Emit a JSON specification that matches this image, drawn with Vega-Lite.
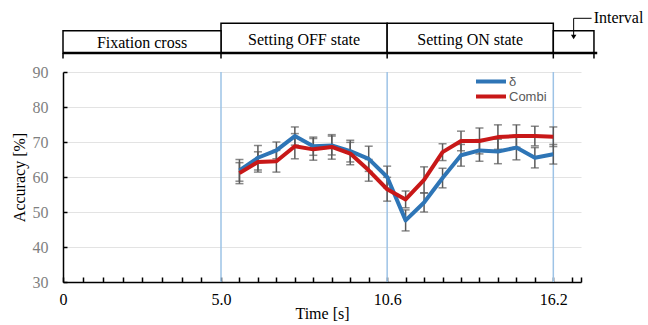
{
  "$schema": "https://vega.github.io/schema/vega-lite/v6.json",
  "background": "white",
  "padding": {"left": 11, "top": 5, "right": 0, "bottom": 5},
  "config": {
    "font": "Liberation Serif",
    "view": {"stroke": null},
    "axis": {"labelOverlap": false, "labelBound": false, "labelFlush": false},
    "axisX": {
      "labelOverlap": false,
      "labelFlush": false,
      "labelFont": "Liberation Serif",
      "labelFontSize": 16,
      "labelColor": "black",
      "labelPadding": 14,
      "tickSize": -5,
      "tickColor": "black",
      "tickWidth": 1.5,
      "domainColor": "black",
      "domainWidth": 1.5,
      "grid": false,
      "titleFont": "Liberation Serif",
      "titleFontSize": 16,
      "titleFontWeight": "normal",
      "titleColor": "black",
      "titlePadding": -2
    },
    "axisY": {
      "labelOverlap": false,
      "grid": true,
      "gridColor": "#E3E3E3",
      "gridWidth": 1,
      "labelFont": "Liberation Serif",
      "labelFontSize": 16,
      "labelColor": "#7F7F7F",
      "labelPadding": 19,
      "tickSize": -4,
      "tickColor": "black",
      "tickWidth": 1.5,
      "domainColor": "black",
      "domainWidth": 1.5,
      "titleFont": "Liberation Serif",
      "titleFontSize": 16,
      "titleFontWeight": "normal",
      "titleColor": "black",
      "titlePadding": 5
    }
  },
  "datasets": {
    "accuracy": [
      {"time": 5.622, "series": "δ", "mean": 61.9, "err": 3.1},
      {"time": 6.244, "series": "δ", "mean": 65.5, "err": 3.5},
      {"time": 6.867, "series": "δ", "mean": 67.6, "err": 2.4},
      {"time": 7.489, "series": "δ", "mean": 71.7, "err": 2.6},
      {"time": 8.111, "series": "δ", "mean": 68.8, "err": 2.6},
      {"time": 8.733, "series": "δ", "mean": 69.0, "err": 2.7},
      {"time": 9.356, "series": "δ", "mean": 67.4, "err": 3.1},
      {"time": 9.978, "series": "δ", "mean": 65.2, "err": 3.6},
      {"time": 10.6, "series": "δ", "mean": 60.0, "err": 3.1},
      {"time": 11.222, "series": "δ", "mean": 47.6, "err": 3.0},
      {"time": 11.844, "series": "δ", "mean": 52.7, "err": 2.7},
      {"time": 12.467, "series": "δ", "mean": 59.7, "err": 2.8},
      {"time": 13.089, "series": "δ", "mean": 66.2, "err": 3.1},
      {"time": 13.711, "series": "δ", "mean": 67.6, "err": 3.1},
      {"time": 14.333, "series": "δ", "mean": 67.3, "err": 3.5},
      {"time": 14.956, "series": "δ", "mean": 68.4, "err": 3.5},
      {"time": 15.578, "series": "δ", "mean": 65.5, "err": 2.9},
      {"time": 16.2, "series": "δ", "mean": 66.5, "err": 2.8},
      {"time": 5.622, "series": "Combi", "mean": 61.1, "err": 3.0},
      {"time": 6.244, "series": "Combi", "mean": 64.3, "err": 2.9},
      {"time": 6.867, "series": "Combi", "mean": 64.5, "err": 3.1},
      {"time": 7.489, "series": "Combi", "mean": 68.8, "err": 3.6},
      {"time": 8.111, "series": "Combi", "mean": 67.9, "err": 3.1},
      {"time": 8.733, "series": "Combi", "mean": 68.6, "err": 3.5},
      {"time": 9.356, "series": "Combi", "mean": 66.7, "err": 3.2},
      {"time": 9.978, "series": "Combi", "mean": 61.9, "err": 3.1},
      {"time": 10.6, "series": "Combi", "mean": 56.5, "err": 3.4},
      {"time": 11.222, "series": "Combi", "mean": 53.6, "err": 2.4},
      {"time": 11.844, "series": "Combi", "mean": 59.2, "err": 3.7},
      {"time": 12.467, "series": "Combi", "mean": 67.1, "err": 2.4},
      {"time": 13.089, "series": "Combi", "mean": 70.3, "err": 2.8},
      {"time": 13.711, "series": "Combi", "mean": 70.3, "err": 3.7},
      {"time": 14.333, "series": "Combi", "mean": 71.4, "err": 3.5},
      {"time": 14.956, "series": "Combi", "mean": 71.7, "err": 3.2},
      {"time": 15.578, "series": "Combi", "mean": 71.7, "err": 2.8},
      {"time": 16.2, "series": "Combi", "mean": 71.5, "err": 2.8}
    ],
    "phases": [
      {"phase": "Fixation cross", "start": 0, "end": 5.0, "mid": 2.5, "kind": "rest"},
      {"phase": "Setting OFF state", "start": 5.0, "end": 10.6, "mid": 7.8, "kind": "setting"},
      {"phase": "Setting ON state", "start": 10.6, "end": 16.2, "mid": 13.4, "kind": "setting"},
      {"phase": "Interval", "start": 16.2, "end": 17.57, "mid": 16.885, "kind": "rest"}
    ],
    "boundaries": [{"t": 5.0}, {"t": 10.6}, {"t": 16.2}]
  },
  "spacing": 4,
  "resolve": {"scale": {"x": "independent", "y": "independent"}, "legend": {"color": "independent"}},
  "vconcat": [
    {
      "width": 518,
      "height": 54,
      "data": {"name": "phases"},
      "layer": [
        {
          "transform": [{"filter": "datum.kind == 'setting'"}],
          "mark": {"type": "rect", "fill": "white", "stroke": "black", "strokeWidth": 1.5},
          "encoding": {
            "x": {"field": "start", "type": "quantitative", "scale": {"domain": [0, 5, 17.133], "range": [0, 158, 518], "nice": false, "zero": false}, "axis": null},
            "x2": {"field": "end"},
            "y": {"datum": 0, "type": "quantitative", "scale": {"domain": [-6, 48], "nice": false}, "axis": null},
            "y2": {"datum": 29.7}
          }
        },
        {
          "transform": [{"filter": "datum.kind == 'rest'"}],
          "mark": {"type": "rect", "fill": "white", "stroke": "black", "strokeWidth": 1.5},
          "encoding": {
            "x": {"field": "start", "type": "quantitative"},
            "x2": {"field": "end"},
            "y": {"datum": 0, "type": "quantitative"},
            "y2": {"datum": 22.3}
          }
        },
        {
          "mark": {"type": "rule", "color": "black", "strokeWidth": 1.5},
          "encoding": {
            "x": {"field": "start", "type": "quantitative"},
            "y": {"datum": 0, "type": "quantitative"},
            "y2": {"datum": -5.5}
          }
        },
        {
          "transform": [{"filter": "datum.phase == 'Interval'"}],
          "mark": {"type": "rule", "color": "black", "strokeWidth": 1.5},
          "encoding": {
            "x": {"field": "end", "type": "quantitative"},
            "y": {"datum": 0, "type": "quantitative"},
            "y2": {"datum": -5.5}
          }
        },
        {
          "transform": [{"filter": "datum.phase == 'Fixation cross'"}],
          "mark": {"type": "rule", "color": "black", "strokeWidth": 2.5},
          "encoding": {
            "x": {"field": "start", "type": "quantitative"},
            "x2": {"datum": 17.68},
            "y": {"datum": 0, "type": "quantitative"}
          }
        },
        {
          "transform": [{"filter": "datum.kind == 'setting'"}],
          "mark": {"type": "text", "fontSize": 16, "font": "Liberation Serif", "color": "black", "baseline": "alphabetic", "align": "center"},
          "encoding": {
            "x": {"field": "mid", "type": "quantitative"},
            "y": {"datum": 8.5, "type": "quantitative"},
            "text": {"field": "phase"}
          }
        },
        {
          "transform": [{"filter": "datum.phase == 'Fixation cross'"}],
          "mark": {"type": "text", "fontSize": 16, "font": "Liberation Serif", "color": "black", "baseline": "alphabetic", "align": "center"},
          "encoding": {
            "x": {"field": "mid", "type": "quantitative"},
            "y": {"datum": 5.5, "type": "quantitative"},
            "text": {"field": "phase"}
          }
        },
        {
          "transform": [{"filter": "datum.phase == 'Interval'"}],
          "mark": {"type": "text", "fontSize": 16, "font": "Liberation Serif", "color": "black", "baseline": "alphabetic", "align": "left", "dx": 20},
          "encoding": {
            "x": {"field": "mid", "type": "quantitative"},
            "y": {"datum": 29.7, "type": "quantitative"},
            "text": {"field": "phase"}
          }
        },
        {
          "transform": [{"filter": "datum.phase == 'Interval'"}],
          "mark": {"type": "rule", "color": "black", "strokeWidth": 1},
          "encoding": {
            "x": {"field": "mid", "type": "quantitative"},
            "x2": {"datum": 17.49},
            "y": {"datum": 34.7, "type": "quantitative"}
          }
        },
        {
          "transform": [{"filter": "datum.phase == 'Interval'"}],
          "mark": {"type": "rule", "color": "black", "strokeWidth": 1},
          "encoding": {
            "x": {"field": "mid", "type": "quantitative"},
            "y": {"datum": 34.7, "type": "quantitative"},
            "y2": {"datum": 17}
          }
        },
        {
          "transform": [{"filter": "datum.phase == 'Interval'"}],
          "mark": {"type": "point", "shape": "triangle-down", "filled": true, "color": "black", "size": 30, "opacity": 1},
          "encoding": {
            "x": {"field": "mid", "type": "quantitative"},
            "y": {"datum": 16, "type": "quantitative"}
          }
        }
      ]
    },
    {
      "width": 518,
      "height": 210,
      "layer": [
        {
          "data": {"name": "boundaries"},
          "mark": {"type": "rule", "color": "#9DC3E6", "strokeWidth": 1.5},
          "encoding": {
            "x": {
              "field": "t",
              "type": "quantitative",
              "title": "Time [s]",
              "scale": {"domain": [0, 5, 17.133], "range": [0, 158, 518], "nice": false, "zero": false},
              "axis": {
                "values": [0, 0.644, 1.267, 1.889, 2.511, 3.133, 3.756, 4.378, 5, 5.622, 6.244, 6.867, 7.489, 8.111, 8.733, 9.356, 9.978, 10.6, 11.222, 11.844, 12.467, 13.089, 13.711, 14.333, 14.956, 15.578, 16.2, 16.822, 17.133],
                "labelExpr": "datum.value < 0.01 ? '0' : (datum.value > 4.9 && datum.value < 5.1) ? '5.0' : (datum.value > 10.5 && datum.value < 10.7) ? '10.6' : (datum.value > 16.1 && datum.value < 16.3) ? '16.2' : ''",
                "labelOverlap": false,
                "labelFlush": false
              }
            }
          }
        },
        {
          "data": {"name": "accuracy"},
          "mark": {"type": "errorbar", "color": "#595959", "thickness": 1.5, "ticks": {"size": 8}},
          "encoding": {
            "x": {
              "field": "time",
              "type": "quantitative",
              "title": "Time [s]",
              "scale": {"domain": [0, 5, 17.133], "range": [0, 158, 518], "nice": false, "zero": false},
              "axis": {
                "values": [0, 0.644, 1.267, 1.889, 2.511, 3.133, 3.756, 4.378, 5, 5.622, 6.244, 6.867, 7.489, 8.111, 8.733, 9.356, 9.978, 10.6, 11.222, 11.844, 12.467, 13.089, 13.711, 14.333, 14.956, 15.578, 16.2, 16.822, 17.133],
                "labelExpr": "datum.value < 0.01 ? '0' : (datum.value > 4.9 && datum.value < 5.1) ? '5.0' : (datum.value > 10.5 && datum.value < 10.7) ? '10.6' : (datum.value > 16.1 && datum.value < 16.3) ? '16.2' : ''",
                "labelOverlap": false,
                "labelFlush": false
              }
            },
            "y": {
              "field": "mean",
              "type": "quantitative",
              "title": "Accuracy [%]",
              "scale": {"domain": [30, 90], "nice": false, "zero": false},
              "axis": {"values": [30, 40, 50, 60, 70, 80, 90], "labelOverlap": false}
            },
            "yError": {"field": "err"},
            "detail": {"field": "series"}
          }
        },
        {
          "data": {"name": "accuracy"},
          "mark": {"type": "line", "strokeWidth": 4, "strokeJoin": "round"},
          "encoding": {
            "x": {
              "field": "time",
              "type": "quantitative",
              "title": "Time [s]",
              "axis": {
                "values": [0, 0.644, 1.267, 1.889, 2.511, 3.133, 3.756, 4.378, 5, 5.622, 6.244, 6.867, 7.489, 8.111, 8.733, 9.356, 9.978, 10.6, 11.222, 11.844, 12.467, 13.089, 13.711, 14.333, 14.956, 15.578, 16.2, 16.822, 17.133],
                "labelExpr": "datum.value < 0.01 ? '0' : (datum.value > 4.9 && datum.value < 5.1) ? '5.0' : (datum.value > 10.5 && datum.value < 10.7) ? '10.6' : (datum.value > 16.1 && datum.value < 16.3) ? '16.2' : ''",
                "labelOverlap": false,
                "labelFlush": false
              }
            },
            "y": {
              "field": "mean",
              "type": "quantitative",
              "title": "Accuracy [%]",
              "axis": {"values": [30, 40, 50, 60, 70, 80, 90], "labelOverlap": false}
            },
            "color": {
              "field": "series",
              "type": "nominal",
              "scale": {"domain": ["δ", "Combi"], "range": ["#2E75B6", "#C81818"]},
              "legend": {
                "orient": "none",
                "legendX": 411,
                "legendY": 2,
                "padding": 0,
                "title": null,
                "symbolType": "stroke",
                "symbolSize": 900,
                "symbolStrokeWidth": 4,
                "clipHeight": 15,
                "labelFont": "Liberation Sans",
                "labelFontSize": 13,
                "labelColor": "#595959",
                "labelOffset": 1,
                "rowPadding": 0
              }
            }
          }
        }
      ]
    }
  ]
}
